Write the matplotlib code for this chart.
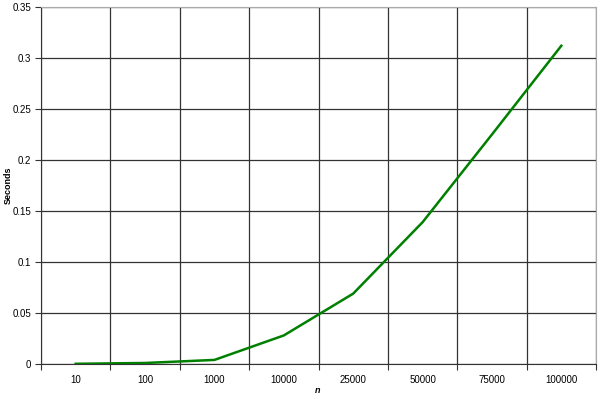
import matplotlib.pyplot as plt
import numpy as np

n_labels = ['10', '100', '1000', '10000', '25000', '50000', '75000', '100000']
seconds = [0.0002, 0.001, 0.004, 0.028, 0.069, 0.139, 0.225, 0.312]

plt.rcParams.update({"font.size": 7, "font.family": "Liberation Sans"})

fig = plt.figure(figsize=(6.0, 3.99), dpi=100)
ax = fig.add_axes([41/600, 35/399, 555/600, 357/399])

x = np.arange(len(n_labels)) + 0.5
ax.plot(x, seconds, color='#008000', lw=1.8, zorder=3)

ax.set_xlim(0, len(n_labels))
ax.set_ylim(0, 0.35)
ax.set_yticks(np.arange(0, 0.351, 0.05))
ax.set_yticklabels(['0', '0.05', '0.1', '0.15', '0.2', '0.25', '0.3', '0.35'])

ax.set_xticks(np.arange(0, len(n_labels) + 1))
ax.set_xticklabels([])
ax.set_xticks(x, minor=True)
ax.set_xticklabels(n_labels, minor=True)
ax.tick_params(axis='x', which='minor', length=0, pad=8)
ax.tick_params(axis='x', which='major', length=4, color='#333333')
ax.tick_params(axis='y', length=4, color='#333333', pad=3)

ax.grid(True, which='major', color='#333333', lw=0.9)
ax.set_axisbelow(True)

for s in ['top', 'right']:
    ax.spines[s].set_color('#aaaaaa')
for s in ['left', 'bottom']:
    ax.spines[s].set_color('#333333')

ax.set_xlabel('n', fontweight='bold', fontstyle='italic', fontsize=6.5)
ax.set_ylabel('Seconds', fontweight='bold', fontsize=6.5)
ax.xaxis.set_label_coords(0.499, -0.062)
ax.yaxis.set_label_coords(-0.05, 0.5)

fig.savefig('out.png', dpi=100)
